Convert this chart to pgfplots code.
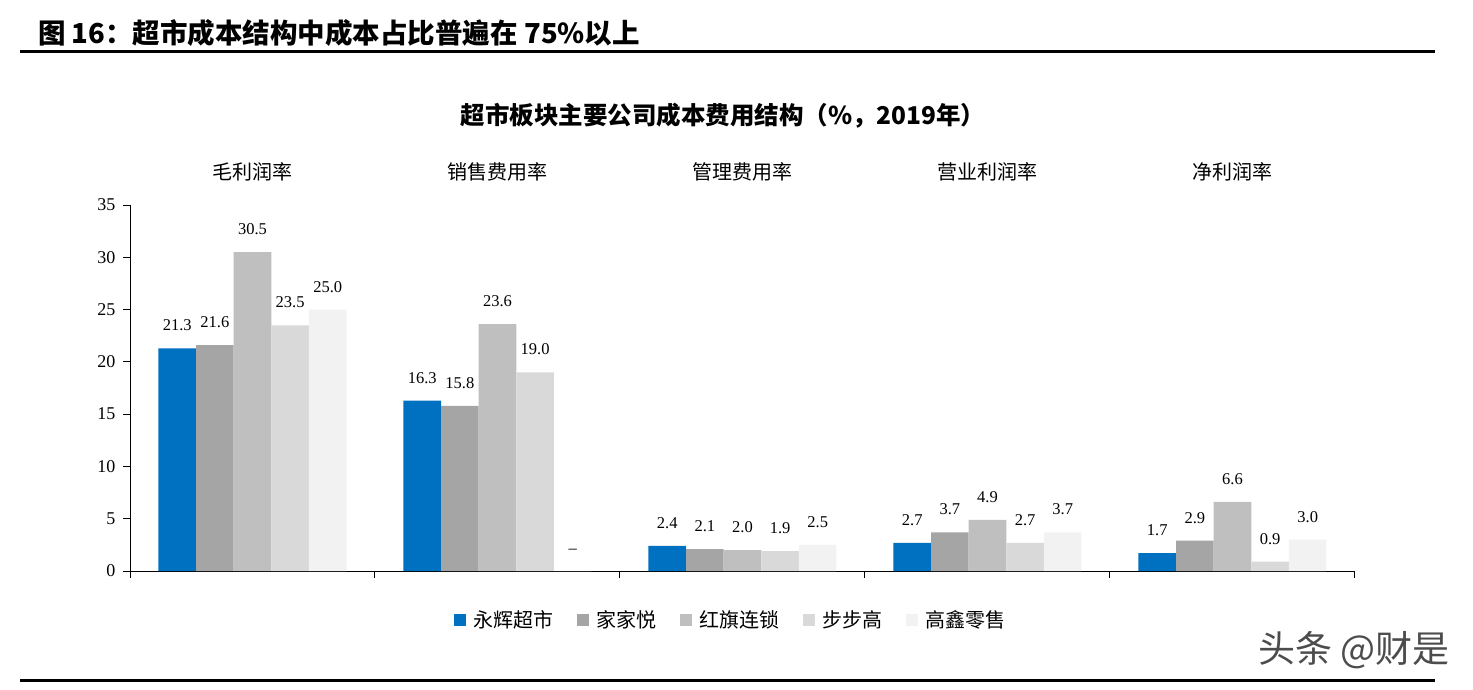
\documentclass[border=0pt]{standalone}
\usepackage{fontspec}
\setmainfont{Liberation Serif}
\newfontfamily\cjk{Noto Sans CJK SC}
\usepackage{pgfplots}
\usepackage{pgfplotstable}
\pgfplotsset{compat=1.18}

\definecolor{cA}{HTML}{0070C0}
\definecolor{cB}{HTML}{A5A5A5}
\definecolor{cC}{HTML}{BFBFBF}
\definecolor{cD}{HTML}{D9D9D9}
\definecolor{cE}{HTML}{F2F2F2}

% 0 毛利润率, 1 销售费用率, 2 管理费用率, 3 营业利润率, 4 净利润率
\pgfplotstableread{
x y l
0 21.3 21.3
1 16.3 16.3
2 2.4 2.4
3 2.7 2.7
4 1.7 1.7
}\yonghui
\pgfplotstableread{
x y l
0 21.6 21.6
1 15.8 15.8
2 2.1 2.1
3 3.7 3.7
4 2.9 2.9
}\jiajiayue
\pgfplotstableread{
x y l
0 30.5 30.5
1 23.6 23.6
2 2.0 2.0
3 4.9 4.9
4 6.6 6.6
}\hongqi
\pgfplotstableread{
x y l
0 23.5 23.5
1 19.0 19.0
2 1.9 1.9
3 2.7 2.7
4 0.9 0.9
}\bubugao
\pgfplotstableread{
x y l
0 25.0 25.0
1 0 --
2 2.5 2.5
3 3.7 3.7
4 3.0 3.0
}\gaoxin

\begin{document}
\begin{tikzpicture}
\path[use as bounding box] (0pt,0pt) rectangle (1473pt,689pt);

% header
\node[anchor=west, font=\cjk\bfseries\fontsize{27.5}{30}\selectfont, inner sep=0pt]
  at (38pt,656pt) {图 16：超市成本结构中成本占比普遍在 75\%以上};
\draw[line width=3pt] (20pt,637pt) -- (1435pt,637pt);
\draw[line width=3pt] (20pt,9pt) -- (1435pt,9pt);

% chart title
\node[font=\cjk\bfseries\fontsize{24.5}{27}\selectfont, inner sep=0pt]
  at (723pt,573pt) {超市板块主要公司成本费用结构（\%，2019年）};

% category names
\foreach \xx/\name in {252.5/毛利润率, 497.5/销售费用率, 742.5/管理费用率, 987.5/营业利润率, 1232.5/净利润率}
  \node[font=\cjk\fontsize{20}{22}\selectfont, inner sep=0pt] at (\xx pt,517pt) {\name};

\begin{axis}[
  at={(130pt,118pt)}, anchor=south west,
  scale only axis, width=1225pt, height=366pt,
  xmin=-0.5, xmax=4.5, ymin=0, ymax=35,
  ybar=0pt, bar width=37.6pt,
  axis x line*=bottom, axis y line*=left,
  axis line style={black, line width=1pt, -},
  xtick={-0.5,0.5,1.5,2.5,3.5,4.5}, xticklabels={},
  ytick={0,5,...,35},
  tick align=outside, major tick length=7pt,
  tick style={black, line width=1pt},
  yticklabel style={font=\fontsize{18}{20}\selectfont, xshift=-4pt},
  /pgf/number format/assume math mode=true,
  clip=false,
  nodes near coords,
  point meta=explicit symbolic,
  every node near coord/.append style={font=\fontsize{16.5}{18}\selectfont, black, inner sep=0pt, yshift=17pt},
  legend columns=5,
  legend style={at={(0.4906,-0.134)}, anchor=center, draw=none, fill=none,
    font=\cjk\fontsize{20}{22}\selectfont,
    /tikz/every odd column/.append style={column sep=5pt},
    /tikz/every even column/.append style={column sep=22pt}},
  legend image code/.code={\fill[#1, draw=none] (0pt,-6pt) rectangle (12pt,6pt);},
]
\addplot[fill=cA, draw=none] table[x=x, y=y, meta=l] {\yonghui};
\addplot[fill=cB, draw=none] table[x=x, y=y, meta=l] {\jiajiayue};
\addplot[fill=cC, draw=none] table[x=x, y=y, meta=l] {\hongqi};
\addplot[fill=cD, draw=none] table[x=x, y=y, meta=l] {\bubugao};
\addplot[fill=cE, draw=none] table[x=x, y=y, meta=l] {\gaoxin};
\legend{永辉超市, 家家悦, 红旗连锁, 步步高, 高鑫零售}
\end{axis}

% watermark
\node[anchor=east, font=\cjk\fontsize{37}{40}\selectfont, text=black!70, inner sep=0pt]
  at (1450pt,39pt) {头条 @财是};
\end{tikzpicture}
\end{document}
